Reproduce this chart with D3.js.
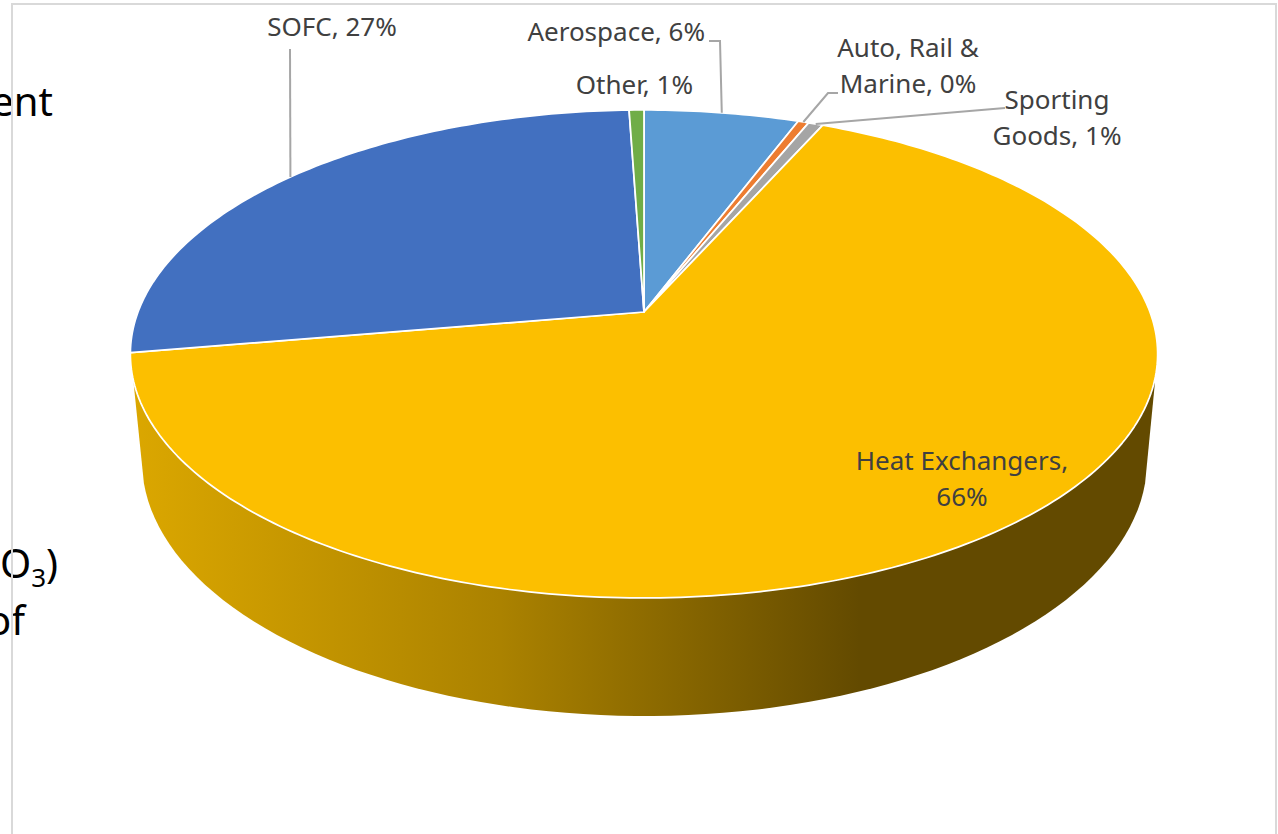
<!DOCTYPE html>
<html>
<head>
<meta charset="utf-8">
<script src="https://cdn.jsdelivr.net/npm/d3@7"></script>
<style>
  html, body { margin: 0; padding: 0; background: #fff; overflow: hidden; }
  text { font-family: "Noto Sans", "Open Sans", sans-serif; }
</style>
</head>
<body>
<div id="chart"></div>
<script>
// values, clockwise from 12 o'clock
const categories = ["Aerospace", "Auto, Rail & Marine", "Sporting Goods", "Heat Exchangers", "SOFC", "Other"];
const shares = [0.0575, 0.004, 0.0055, 0.656, 0.271, 0.0055];
const colors = ["#5b9bd5", "#ed7d31", "#a5a5a5", "#fcbf00", "#4270c0", "#70ad47"];

// how each label is placed, text lines are filled in from the data
const labelLayout = {
    "Aerospace": {lines: d => [`Aerospace, ${d}`], x: 705, y: 41, anchor: "end", elbow: [[720, 41], [709, 41]]},
    "Auto, Rail & Marine": {lines: d => ["Auto, Rail &", `Marine, ${d}`], x: 908, y: 57, anchor: "middle", elbow: [[828, 93], [838, 93]]},
    "Sporting Goods": {lines: d => ["Sporting", `Goods, ${d}`], x: 1057, y: 109, anchor: "middle", elbow: [[1005, 108]]},
    "Heat Exchangers": {lines: d => ["Heat Exchangers,", d], x: 962, y: 470, anchor: "middle", elbow: null},
    "SOFC": {lines: d => [`SOFC, ${d}`], x: 332, y: 36, anchor: "middle", elbow: [[290, 49]]},
    "Other": {lines: d => [`Other, ${d}`], x: 693, y: 94, anchor: "end", elbow: null}
};

const width = 1278, height = 834;
const pct = d3.format(".0%");

const svg = d3.select("#chart").append("svg")
    .attr("width", width)
    .attr("height", height);

// bits of slide text cut off by the chart on the left
const cutText = svg.append("g").attr("fill", "#000").attr("font-size", 40);
cutText.append("text").attr("x", 53).attr("y", 116).attr("text-anchor", "end").text("ent");
const o3 = cutText.append("text").attr("x", 58).attr("y", 578).attr("text-anchor", "end");
o3.append("tspan").text("O");
o3.append("tspan").attr("font-size", 26).attr("dy", 9).text("3");
o3.append("tspan").attr("dy", -9).text(")");
cutText.append("text").attr("x", 25).attr("y", 635).attr("text-anchor", "end").text("of");

// chart frame, sits over the slide text
svg.append("rect")
    .attr("x", 12).attr("y", 4)
    .attr("width", 1264).attr("height", 900)
    .attr("fill", "none")
    .attr("stroke", "#d9d9d9")
    .attr("stroke-width", 2);

// perspective of the pie top: disc (u, v) to the screen
const apex = [644, 312], rx = 506, ry = 236.8, tilt = 0.172;
const project = (angle, r = 1) => {
    const u = r * Math.sin(angle), v = r * Math.cos(angle);
    const w = 1 + tilt * v;
    return [apex[0] + rx * u / w, apex[1] - ry * v / w];
};

// side wall
const grad = svg.append("defs").append("linearGradient")
    .attr("id", "wall")
    .attr("gradientUnits", "userSpaceOnUse")
    .attr("x1", 133).attr("x2", 860).attr("y1", 0).attr("y2", 0);
grad.append("stop").attr("offset", 0).attr("stop-color", "#dba700");
grad.append("stop").attr("offset", 0.505).attr("stop-color", "#ab8200");
grad.append("stop").attr("offset", 1).attr("stop-color", "#634a00");

const bottom = {cx: 644.5, cy: 461, rx: 502.5, ry: 255};
const bottomArc = d3.range(5, 176, 2).map(a => {
    const t = a * Math.PI / 180;
    return [bottom.cx - bottom.rx * Math.cos(t), bottom.cy + bottom.ry * Math.sin(t)];
});
svg.append("path")
    .attr("fill", "url(#wall)")
    .attr("d", d3.line()([[133.5, 382], ...bottomArc, [1155, 382]]) + "Z");

// pie top
const pie = d3.pie().sort(null).value(d => d.share);
const slices = pie(categories.map((name, i) => ({name, share: shares[i], color: colors[i]})));

const slicePath = d => {
    const n = Math.max(2, Math.ceil((d.endAngle - d.startAngle) * 60));
    const rim = d3.range(n + 1).map(i => project(d.startAngle + (d.endAngle - d.startAngle) * i / n));
    return d3.line()([apex, ...rim]) + "Z";
};

svg.append("g").selectAll("path")
    .data(slices)
    .join("path")
    .attr("d", slicePath)
    .attr("fill", d => d.data.color)
    .attr("stroke", "#fff")
    .attr("stroke-width", 1.75)
    .attr("stroke-linejoin", "round");

// leader lines run from the middle of the slice rim
svg.append("g").selectAll("path")
    .data(slices.filter(d => labelLayout[d.data.name].elbow))
    .join("path")
    .attr("fill", "none")
    .attr("stroke", "#a6a6a6")
    .attr("stroke-width", 2)
    .attr("d", d => d3.line()([project((d.startAngle + d.endAngle) / 2), ...labelLayout[d.data.name].elbow]));

// labels
const labels = svg.append("g").selectAll("text")
    .data(slices)
    .join("text")
    .attr("font-size", 26)
    .attr("fill", "#404040")
    .attr("text-anchor", d => labelLayout[d.data.name].anchor);

labels.selectAll("tspan")
    .data(d => {
        const l = labelLayout[d.data.name];
        return l.lines(pct(d.data.share)).map((t, i) => ({t, i, x: l.x, y: l.y}));
    })
    .join("tspan")
    .attr("x", d => d.x)
    .attr("y", d => d.y + d.i * 36)
    .text(d => d.t);
</script>
</body>
</html>
